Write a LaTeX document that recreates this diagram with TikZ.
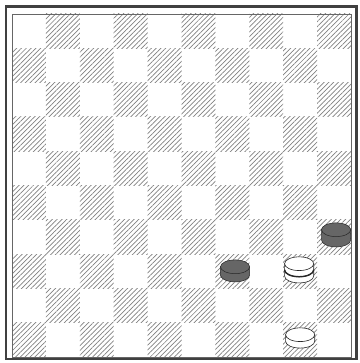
\documentclass[tikz,border=0pt]{standalone}
\usetikzlibrary{patterns.meta}

\newcommand\drawpiece[4]{%
  \filldraw[#4] (#1-.43,#2) -- (#1-.43,#2+#3) -- (#1+.43,#2+#3) -- (#1+.43,#2)
    arc[start angle=0,end angle=-180,x radius=.43,y radius=.2] -- cycle;
  \filldraw[#4] (#1,#2+#3) ellipse[x radius=.43,y radius=.2];
}

\begin{document}
\begin{tikzpicture}[x=33.9pt,y=34.3pt,
  darksq/.style={pattern={Lines[angle=45,distance=3.4pt,line width=.7pt]},
    pattern color=black!50},
  frame/.style={line width=2.2pt,draw=black!75},
  blackpiece/.style={fill=black!60,draw=black!85,line width=.5pt},
  whitepiece/.style={fill=white,draw=black!85,line width=.6pt}]
  \useasboundingbox (-.354,-.175) rectangle (10.236,10.408);
  \foreach \c in {0,...,9}
    \foreach \r in {0,...,9}{
      \pgfmathparse{int(mod(\c+\r,2))}
      \ifnum\pgfmathresult=0 \fill[darksq] (\c,\r) rectangle ++(1,1); \fi
    }
  \draw[black!60,line width=.5pt] (0,0) rectangle (10,10);
  \draw[frame] (-.18,-.07) rectangle (10.16,10.22);
  % black men
  \drawpiece{9.56}{3.41}{.30}{blackpiece}
  \drawpiece{6.58}{2.39}{.24}{blackpiece}
  % white king and man
  \drawpiece{8.47}{2.36}{.18}{whitepiece}
  \drawpiece{8.47}{2.54}{.18}{whitepiece}
  \draw[black!85,line width=1.4pt] (8.04,2.54) arc[start angle=180,end angle=360,x radius=.43,y radius=.2];
  \drawpiece{8.5}{.46}{.19}{whitepiece}
\end{tikzpicture}
\end{document}
